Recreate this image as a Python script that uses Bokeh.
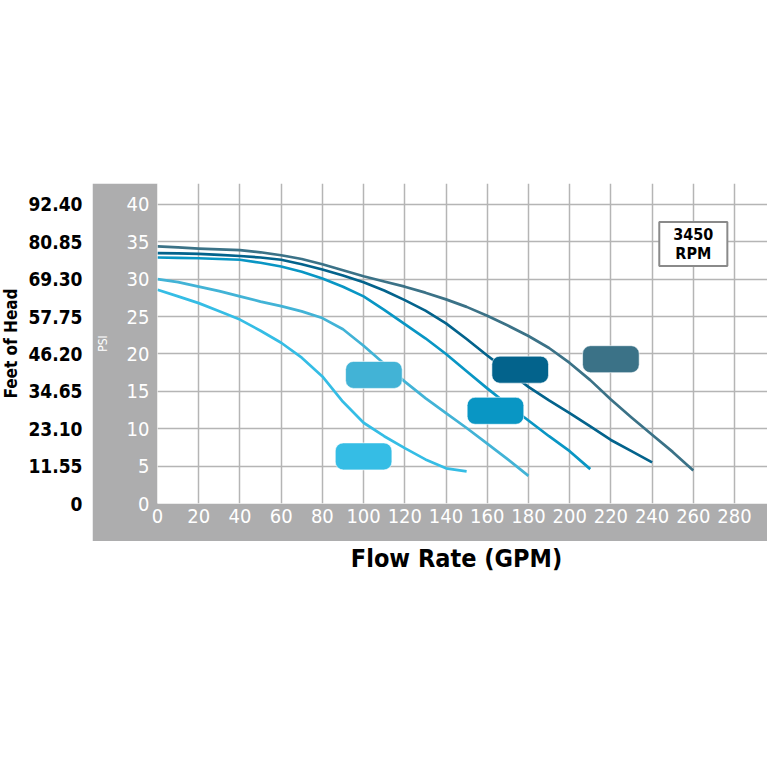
from bokeh.plotting import figure
from bokeh.models import Range1d, FixedTicker, Label, ColumnDataSource, Spacer
from bokeh.layouts import column, row
from bokeh.embed import file_html
from bokeh.resources import INLINE

# ---------------- data ----------------
gpm_ticks = [0, 20, 40, 60, 80, 100, 120, 140, 160, 180, 200, 220, 240, 260, 280]
psi_ticks = [0, 5, 10, 15, 20, 25, 30, 35, 40]
feet_labels = ["0", "11.55", "23.10", "34.65", "46.20", "57.75", "69.30", "80.85", "92.40"]

gpm_c1 = [0, 10, 20, 30, 40, 50, 60, 70, 80, 90, 100, 110, 120, 130, 140, 150, 160, 170, 180, 190, 200, 210, 220, 230, 240, 250, 260]
psi_c1 = [34.4, 34.25, 34.1, 34.0, 33.9, 33.6, 33.2, 32.7, 32.0, 31.2, 30.4, 29.7, 29.0, 28.2, 27.3, 26.3, 25.1, 23.8, 22.4, 20.8, 18.8, 16.5, 13.9, 11.5, 9.2, 6.9, 4.4]

gpm_c2 = [0, 10, 20, 30, 40, 50, 60, 70, 80, 90, 100, 110, 120, 130, 140, 150, 160, 170, 180, 190, 200, 210, 220, 230, 240]
psi_c2 = [33.5, 33.45, 33.4, 33.25, 33.1, 32.9, 32.6, 32.0, 31.3, 30.5, 29.6, 28.5, 27.2, 25.8, 24.1, 22.0, 19.8, 17.7, 15.6, 13.8, 12.1, 10.3, 8.5, 7.0, 5.5]

gpm_c3 = [0, 10, 20, 30, 40, 50, 60, 70, 80, 90, 100, 110, 120, 130, 140, 150, 160, 170, 180, 190, 200, 210]
psi_c3 = [32.9, 32.85, 32.8, 32.7, 32.6, 32.2, 31.7, 31.0, 30.1, 29.0, 27.7, 25.9, 24.0, 22.1, 20.0, 17.7, 15.4, 13.2, 11.1, 9.0, 7.0, 4.6]

gpm_c4 = [0, 10, 20, 30, 40, 50, 60, 70, 80, 90, 100, 110, 120, 130, 140, 150, 160, 170, 180]
psi_c4 = [30.0, 29.6, 29.0, 28.4, 27.7, 27.0, 26.4, 25.7, 24.8, 23.3, 21.1, 18.7, 16.3, 14.1, 12.1, 10.1, 8.0, 5.9, 3.7]

gpm_c5 = [0, 10, 20, 30, 40, 50, 60, 70, 80, 90, 100, 110, 120, 130, 140, 150]
psi_c5 = [28.6, 27.7, 26.8, 25.7, 24.6, 23.1, 21.5, 19.5, 17.0, 13.6, 10.8, 9.0, 7.4, 5.9, 4.7, 4.3]

curve_colors = ["#3b7287", "#03638c", "#0996c4", "#42b3d6", "#35bde5"]

# coloured tag boxes next to each curve (centres)
tag_gpm = [220, 176, 164, 105, 100]
tag_psi = [19.3, 17.9, 12.4, 17.2, 6.3]

rpm_text = "3450\nRPM"
rpm_gpm = 260
rpm_psi = 34.7

x_title = "Flow Rate (GPM)"
y_title_outer = "Feet of Head"
y_title_inner = "PSI"

# ---------------- layout ----------------
TOP_SPACE = 183
LEFT_W = 92
MAIN_W, MAIN_H = 675, 358
BAND_L, BAND_B = 61, 38
X_MIN, X_MAX = 0, 296
Y_MIN, Y_MAX = 0, 42.8
GRAY = "#adadae"
NARROW = "DejaVu Sans Condensed, Liberation Sans Narrow, Roboto, sans-serif"

ppy = (MAIN_H - BAND_B) / (Y_MAX - Y_MIN)
ppx = (MAIN_W - BAND_L) / (X_MAX - X_MIN)


def strip_axis(ax):
    ax.axis_line_color = None
    ax.major_tick_line_color = None
    ax.minor_tick_line_color = None
    ax.major_tick_out = 0
    ax.major_tick_in = 0


# main (gray framed) chart
p = figure(width=MAIN_W, height=MAIN_H, output_backend="svg", toolbar_location=None,
           x_range=Range1d(X_MIN, X_MAX), y_range=Range1d(Y_MIN, Y_MAX),
           min_border_left=BAND_L, min_border_right=0, min_border_top=0, min_border_bottom=BAND_B)
p.background_fill_color = "white"
p.border_fill_color = GRAY
p.outline_line_color = None

p.xgrid.ticker = FixedTicker(ticks=gpm_ticks)
p.ygrid.ticker = FixedTicker(ticks=psi_ticks)
for g in (p.xgrid, p.ygrid):
    g.grid_line_color = "#b5b5b5"
    g.grid_line_width = 1.5

xa = p.xaxis[0]
xa.ticker = FixedTicker(ticks=gpm_ticks)
strip_axis(xa)
xa.major_label_text_color = "white"
xa.major_label_text_font = NARROW
xa.major_label_text_font_size = "20px"
xa.major_label_standoff = 5

ya = p.yaxis[0]
ya.ticker = FixedTicker(ticks=psi_ticks)
strip_axis(ya)
ya.major_label_text_color = "white"
ya.major_label_text_font = NARROW
ya.major_label_text_font_size = "20px"
ya.major_label_standoff = 8
ya.axis_label = y_title_inner
ya.axis_label_text_color = "white"
ya.axis_label_text_font = NARROW
ya.axis_label_text_font_style = "normal"
ya.axis_label_text_font_size = "12px"
ya.axis_label_standoff = 14

curves = [(gpm_c1, psi_c1), (gpm_c2, psi_c2), (gpm_c3, psi_c3), (gpm_c4, psi_c4), (gpm_c5, psi_c5)]
for (gx, gy), col in zip(curves, curve_colors):
    p.line(gx, gy, line_color=col, line_width=2.7, line_join="round")

hw = 28.5 / ppx
hh = 13.5 / ppy
tags = ColumnDataSource(dict(
    left=[g - hw for g in tag_gpm], right=[g + hw for g in tag_gpm],
    bottom=[s - hh for s in tag_psi], top=[s + hh for s in tag_psi],
    color=curve_colors))
p.quad(left="left", right="right", bottom="bottom", top="top", source=tags,
       fill_color="color", line_color="white", line_alpha=0.6, line_width=1, border_radius=8)

p.add_layout(Label(x=rpm_gpm, y=rpm_psi, text=rpm_text, text_align="center", text_baseline="middle",
                   text_font=NARROW, text_font_style="bold", text_font_size="16px",
                   text_color="black", text_line_height=1.0,
                   background_fill_color="white", border_line_color="#8a8a8a", border_line_width=2,
                   padding=(14, 3)))

# left strip: feet of head scale (frames of a row are aligned, so same y range)
lf = figure(width=LEFT_W, height=MAIN_H, output_backend="svg", toolbar_location=None,
            x_range=Range1d(0, 1), y_range=Range1d(Y_MIN, Y_MAX),
            min_border_left=LEFT_W - 1, min_border_right=0, min_border_top=0, min_border_bottom=BAND_B,
            x_axis_location=None)
lf.background_fill_color = "white"
lf.border_fill_color = "white"
lf.outline_line_color = None
lf.grid.visible = False
fa = lf.yaxis[0]
fa.ticker = FixedTicker(ticks=psi_ticks)
fa.major_label_overrides = {t: lab for t, lab in zip(psi_ticks, feet_labels)}
strip_axis(fa)
fa.major_label_text_color = "black"
fa.major_label_text_font = NARROW
fa.major_label_text_font_style = "bold"
fa.major_label_text_font_size = "19px"
fa.major_label_standoff = 10
fa.axis_label = y_title_outer
fa.axis_label_text_color = "black"
fa.axis_label_text_font = NARROW
fa.axis_label_text_font_style = "bold"
fa.axis_label_text_font_size = "17px"
fa.axis_label_standoff = 4
lf.line([0, 1], [Y_MAX + 10, Y_MAX + 10], line_alpha=0)

# bottom strip: axis title
tf = figure(width=LEFT_W + MAIN_W, height=767 - TOP_SPACE - MAIN_H, output_backend="svg",
            toolbar_location=None, x_axis_location=None, y_axis_location=None,
            min_border_left=145, min_border_right=0, min_border_top=0, min_border_bottom=0,
            x_range=Range1d(0, 1), y_range=Range1d(0, 1))
tf.title.text = x_title
tf.title.align = "center"
tf.title.text_font = NARROW
tf.title.text_font_style = "bold"
tf.title.text_font_size = "25px"
tf.title.text_color = "black"
tf.title.standoff = 0
tf.background_fill_color = "white"
tf.border_fill_color = "white"
tf.outline_line_color = None
tf.grid.visible = False
tf.line([0, 1], [2, 2], line_alpha=0)

layout = column(Spacer(width=LEFT_W + MAIN_W, height=TOP_SPACE), row(lf, p), tf)
open("out.html", "w").write(file_html(layout, INLINE))
